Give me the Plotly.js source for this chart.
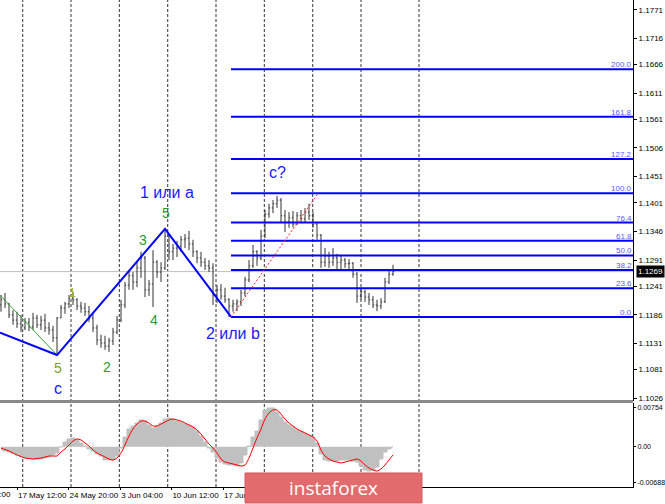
<!DOCTYPE html>
<html><head><meta charset="utf-8">
<script src="https://cdn.plot.ly/plotly-3.0.1.min.js"></script>
<style>html,body{margin:0;padding:0;background:#fff;}#chart{width:665px;height:504px;}</style>
</head><body><div id="chart"></div>
<script>
// ---- price bars (H4, bar index 0..98) ----
const barOpen = [1.1205,1.1215,1.1207,1.1186,1.1176,1.1169,1.1161,1.1172,1.1163,1.1180,
1.1167,1.1176,1.1161,1.1157,1.1142,1.1180,1.1199,1.1207,1.1218,1.1215,
1.1203,1.1199,1.1192,1.1180,1.1161,1.1138,1.1132,1.1126,1.1136,1.1153,
1.1176,1.1205,1.1243,1.1261,1.1249,1.1276,1.1295,1.1234,1.1245,1.1287,
1.1268,1.1276,1.1337,1.1307,1.1314,1.1318,1.1330,1.1333,1.1322,1.1307,
1.1295,1.1287,1.1280,1.1276,1.1224,1.1234,1.1222,1.1215,1.1203,1.1207,
1.1211,1.1228,1.1253,1.1280,1.1307,1.1295,1.1337,1.1379,1.1391,1.1399,
1.1406,1.1376,1.1364,1.1372,1.1360,1.1376,1.1370,1.1383,1.1376,1.1360,
1.1339,1.1287,1.1299,1.1287,1.1295,1.1287,1.1291,1.1284,1.1285,1.1264,
1.1222,1.1230,1.1220,1.1215,1.1205,1.1203,1.1211,1.1249,1.1264];
const barHigh = [1.1224,1.1228,1.1209,1.1195,1.1192,1.1186,1.1180,1.1180,1.1190,1.1186,
1.1184,1.1188,1.1172,1.1165,1.1182,1.1205,1.1211,1.1224,1.1230,1.1218,
1.1211,1.1209,1.1203,1.1188,1.1167,1.1148,1.1146,1.1142,1.1161,1.1184,
1.1215,1.1249,1.1272,1.1268,1.1287,1.1307,1.1299,1.1253,1.1310,1.1291,
1.1287,1.1351,1.1341,1.1322,1.1328,1.1337,1.1341,1.1347,1.1330,1.1310,
1.1307,1.1295,1.1291,1.1285,1.1243,1.1245,1.1238,1.1218,1.1215,1.1216,
1.1234,1.1259,1.1291,1.1320,1.1310,1.1349,1.1387,1.1399,1.1406,1.1414,
1.1410,1.1387,1.1383,1.1385,1.1383,1.1387,1.1391,1.1399,1.1383,1.1362,
1.1341,1.1314,1.1307,1.1314,1.1303,1.1299,1.1295,1.1293,1.1287,1.1268,
1.1238,1.1234,1.1228,1.1222,1.1215,1.1218,1.1257,1.1272,1.1282];
const barLow = [1.1192,1.1199,1.1180,1.1167,1.1161,1.1153,1.1157,1.1155,1.1157,1.1161,
1.1157,1.1153,1.1148,1.1134,1.1109,1.1180,1.1188,1.1199,1.1205,1.1195,
1.1190,1.1184,1.1172,1.1153,1.1128,1.1123,1.1119,1.1115,1.1128,1.1149,
1.1172,1.1199,1.1234,1.1234,1.1239,1.1257,1.1220,1.1222,1.1201,1.1257,
1.1249,1.1272,1.1291,1.1291,1.1297,1.1307,1.1314,1.1310,1.1297,1.1285,
1.1278,1.1272,1.1268,1.1205,1.1209,1.1215,1.1209,1.1182,1.1192,1.1193,
1.1203,1.1222,1.1249,1.1276,1.1280,1.1291,1.1333,1.1372,1.1381,1.1391,
1.1364,1.1345,1.1353,1.1354,1.1358,1.1362,1.1364,1.1368,1.1353,1.1330,
1.1276,1.1278,1.1276,1.1280,1.1272,1.1274,1.1276,1.1272,1.1257,1.1209,
1.1215,1.1211,1.1205,1.1199,1.1193,1.1197,1.1209,1.1245,1.1261];
const barClose = [1.1215,1.1207,1.1186,1.1176,1.1169,1.1161,1.1172,1.1163,1.1180,1.1167,
1.1176,1.1161,1.1157,1.1142,1.1180,1.1199,1.1207,1.1218,1.1215,1.1203,
1.1199,1.1192,1.1180,1.1161,1.1138,1.1132,1.1126,1.1136,1.1153,1.1176,
1.1205,1.1243,1.1261,1.1249,1.1276,1.1295,1.1234,1.1245,1.1287,1.1268,
1.1276,1.1337,1.1307,1.1314,1.1318,1.1330,1.1333,1.1322,1.1307,1.1295,
1.1287,1.1280,1.1276,1.1224,1.1234,1.1222,1.1215,1.1203,1.1207,1.1211,
1.1228,1.1253,1.1280,1.1307,1.1295,1.1337,1.1379,1.1391,1.1399,1.1406,
1.1376,1.1364,1.1372,1.1360,1.1376,1.1370,1.1383,1.1376,1.1360,1.1339,
1.1287,1.1299,1.1287,1.1295,1.1287,1.1291,1.1284,1.1285,1.1264,1.1222,
1.1230,1.1220,1.1215,1.1205,1.1203,1.1211,1.1249,1.1264,1.1269];

// ---- oscillator (MACD-like) ----
const histVals = [-0.00063,-0.00083,-0.00102,-0.00131,-0.00159,-0.00188,-0.00217,-0.00227,-0.00236,-0.00236,
-0.00236,-0.00217,-0.00198,-0.00159,-0.00121,-0.00006,0.00090,0.00148,0.00167,0.00129,
0.00071,0.00013,-0.00044,-0.00083,-0.00140,-0.00179,-0.00255,-0.00255,-0.00255,-0.00179,
-0.00025,0.00186,0.00340,0.00397,0.00455,0.00513,0.00493,0.00417,0.00359,0.00397,
0.00455,0.00532,0.00551,0.00532,0.00493,0.00474,0.00436,0.00417,0.00378,0.00301,
0.00205,0.00090,-0.00025,-0.00102,-0.00217,-0.00294,-0.00332,-0.00351,-0.00351,-0.00371,
-0.00313,-0.00159,0.00013,0.00186,0.00301,0.00513,0.00705,0.00743,0.00743,0.00666,
0.00570,0.00474,0.00417,0.00378,0.00321,0.00301,0.00263,0.00225,0.00186,0.00071,
-0.00140,-0.00255,-0.00275,-0.00275,-0.00275,-0.00255,-0.00255,-0.00255,-0.00275,-0.00294,
-0.00371,-0.00447,-0.00467,-0.00447,-0.00390,-0.00236,-0.00102,-0.00044,-0.00006];
const signalVals = [-0.00025,-0.00054,-0.00083,-0.00121,-0.00159,-0.00188,-0.00217,-0.00227,-0.00236,-0.00227,
-0.00217,-0.00198,-0.00179,-0.00179,-0.00179,-0.00102,-0.00044,0.00033,0.00109,0.00148,
0.00129,0.00071,0.00013,-0.00063,-0.00121,-0.00159,-0.00198,-0.00236,-0.00255,-0.00217,
-0.00121,0.00033,0.00205,0.00340,0.00436,0.00493,0.00493,0.00455,0.00397,0.00397,
0.00436,0.00474,0.00513,0.00532,0.00513,0.00493,0.00455,0.00417,0.00378,0.00321,
0.00244,0.00148,0.00052,-0.00025,-0.00121,-0.00236,-0.00294,-0.00313,-0.00332,-0.00351,
-0.00371,-0.00351,-0.00217,-0.00025,0.00167,0.00340,0.00532,0.00647,0.00705,0.00705,
0.00628,0.00532,0.00455,0.00397,0.00340,0.00301,0.00263,0.00225,0.00186,0.00109,
-0.00063,-0.00179,-0.00236,-0.00275,-0.00294,-0.00313,-0.00294,-0.00275,-0.00255,-0.00236,
-0.00275,-0.00351,-0.00409,-0.00447,-0.00467,-0.00428,-0.00351,-0.00255,-0.00159];

// ---- wave markup ----
const waveX = [-0.25, 14, 41, 57.5];
const waveY = [1.1152, 1.1109, 1.1351, 1.1182];
const greenX = [-0.25, 14];
const greenY = [1.1224, 1.1109];
const fibTrendX = [57.5, 79.3];
const fibTrendY = [1.1182, 1.1419];

// ---- Fibonacci levels ----
const fibLabels = ['0.0','23.6','38.2','50.0','61.8','76.4','100.0','127.2','161.8','200.0'];
const fibPrices = [1.1182,1.1237,1.1272,1.1300,1.1328,1.1363,1.1419,1.1485,1.1566,1.1657];
const fibStart = 57.5;

// ---- labels ----
const waveLabelText = ['1 или a','5','3','4','2','5','1','c','2 или b','c?'];
const waveLabelX = [41.4,41.2,35.6,38.3,26.4,14.3,17.9,14.3,58,69.2];
const waveLabelY = [1.1420,1.1381,1.1330,1.1176,1.1087,1.1084,1.1227,1.1045,1.1151,1.1459];
const waveLabelColor = ['#1a1aff','#2e9a2e','#2e9a2e','#2e9a2e','#2e9a2e','#7f9e1e','#a8b020','#1a1aff','#1a1aff','#1a1aff'];
const waveLabelSize = [16,14,14,14,14,14,12,16,16,16];

// ---- axes ----
const priceTickLabels = ['1.1771','1.1716','1.1666','1.1611','1.1561','1.1506','1.1451','1.1401','1.1346','1.1291','1.1241','1.1186','1.1131','1.1081','1.1026'];
const oscTickLabels = ['0.00754','0.00','-0.00688'];
const timeLabels = ['10 May 04:00','17 May 12:00','24 May 20:00','3 Jun 04:00','10 Jun 12:00','17 Jun 20:00'];
const timeLabelIdx = [-8.8,4.0,16.9,29.8,42.6,55.5];
const gridIdx = [5.43,17.5,29.58,41.68,53.75,65.83,77.93,90.0,104.5];

const barIndex = barOpen.map((_, i) => i);
const lastClose = barClose[barClose.length - 1];
const xRange = [-0.25, 158];
const plotW = 633;

const fibX = [], fibY = [];
fibPrices.forEach(p => { fibX.push(fibStart, xRange[1], null); fibY.push(p, p, null); });

const traces = [
  {type:'ohlc', x:barIndex, open:barOpen, high:barHigh, low:barLow, close:barClose,
   xaxis:'x', yaxis:'y', tickwidth:0.3,
   increasing:{line:{color:'#333333', width:1}}, decreasing:{line:{color:'#333333', width:1}},
   hoverinfo:'skip'},
  {type:'scatter', mode:'lines', x:fibX, y:fibY, xaxis:'x', yaxis:'y',
   line:{color:'#0000ff', width:2}, hoverinfo:'skip'},
  {type:'scatter', mode:'lines', x:greenX, y:greenY, xaxis:'x', yaxis:'y',
   line:{color:'#3c9c3c', width:1}, hoverinfo:'skip'},
  {type:'scatter', mode:'lines', x:waveX, y:waveY, xaxis:'x', yaxis:'y',
   line:{color:'#0000ff', width:2}, hoverinfo:'skip'},
  {type:'scatter', mode:'lines', x:fibTrendX, y:fibTrendY, xaxis:'x', yaxis:'y',
   line:{color:'#ff2020', width:1, dash:'2px,2px'}, hoverinfo:'skip'},
  {type:'scatter', mode:'lines', x:barIndex, y:histVals, xaxis:'x2', yaxis:'y2', fill:'tozeroy',
   fillcolor:'#c0c0c0', line:{color:'#c0c0c0', width:1, shape:'hvh'}, hoverinfo:'skip'},
  {type:'scatter', mode:'lines', x:barIndex, y:signalVals, xaxis:'x2', yaxis:'y2',
   line:{color:'#ff0000', width:1, shape:'spline', smoothing:0.8}, hoverinfo:'skip'}
];

const shapes = [];
gridIdx.forEach(g => shapes.push({type:'line', xref:'x', yref:'paper', x0:g, x1:g, y0:0, y1:1,
  line:{color:'#333333', width:1, dash:'3px,2px'}, layer:'below'}));
shapes.push({type:'line', xref:'paper', yref:'y', x0:0, x1:1, y0:lastClose, y1:lastClose,
  line:{color:'#c0c0c0', width:1}, layer:'below'});
shapes.push({type:'line', xref:'paper', yref:'paper', x0:0, x1:1, y0:0.1755, y1:0.1755,
  line:{color:'#8a8a8a', width:3}, layer:'above'});
shapes.push({type:'rect', xref:'paper', yref:'paper', x0:245/plotW, x1:422/plotW, y0:-0.0329, y1:0.0288,
  fillcolor:'#e26b6e', line:{color:'#d25c60', width:1}, layer:'above'});

const annotations = [];
waveLabelText.forEach((t, i) => annotations.push({text:t, x:waveLabelX[i], y:waveLabelY[i], xref:'x', yref:'y',
  showarrow:false, font:{family:'Liberation Sans, Arial, sans-serif', size:waveLabelSize[i], color:waveLabelColor[i]}}));
fibLabels.forEach((t, i) => annotations.push({text:t, x:1, y:fibPrices[i], xref:'paper', yref:'y',
  xanchor:'right', yanchor:'bottom', yshift:-1, showarrow:false, borderpad:0,
  font:{family:'Liberation Sans, Arial, sans-serif', size:8, color:'#5a5aff'}}));
annotations.push({text:lastClose.toFixed(4), x:1, y:lastClose, xref:'paper', yref:'y', xanchor:'left', xshift:3,
  showarrow:false, bgcolor:'#000', borderpad:1, font:{family:'Liberation Sans, Arial, sans-serif', size:8, color:'#fff'}});
annotations.push({text:timeLabels[0], x:12.7/plotW, y:-0.0145, xref:'paper', yref:'paper', xanchor:'right', yanchor:'middle',
  showarrow:false, font:{family:'Liberation Sans, Arial, sans-serif', size:8, color:'#000'}});
annotations.push({text:'instaforex', x:333.5/plotW, y:-0.002, xref:'paper', yref:'paper', xanchor:'center', yanchor:'middle',
  showarrow:false, font:{family:'Open Sans, sans-serif', size:19, color:'#ffffff'}});

const layout = {
  width:665, height:504, margin:{l:0, r:32, t:0, b:17},
  paper_bgcolor:'#fff', plot_bgcolor:'rgba(0,0,0,0)', showlegend:false,
  font:{family:'Liberation Sans, Arial, sans-serif', size:8, color:'#000'},
  xaxis:{domain:[0,1], anchor:'y', range:xRange, showticklabels:false, showgrid:false, zeroline:false,
    showline:false, ticks:'', rangeslider:{visible:false}, fixedrange:true},
  yaxis:{domain:[0.17659,1], anchor:'x', side:'right', range:[1.10209,1.17896],
    tickvals:priceTickLabels.map(Number), ticktext:priceTickLabels, showgrid:false, zeroline:false,
    showline:true, linecolor:'#000', linewidth:1, ticks:'outside', ticklen:3, tickcolor:'#000',
    tickfont:{size:8}, fixedrange:true},
  xaxis2:{domain:[0,1], anchor:'y2', range:xRange, tickvals:timeLabelIdx.slice(1), ticktext:timeLabels.slice(1),
    ticklabelposition:'outside right', tickangle:0, ticks:'outside', ticklen:2, tickcolor:'#000', showgrid:false, zeroline:false,
    showline:true, linecolor:'#000', linewidth:1, tickfont:{size:8}, fixedrange:true},
  yaxis2:{domain:[0,0.17248], anchor:'x2', side:'right', range:[-0.00774,0.00839],
    tickvals:oscTickLabels.map(Number), ticktext:oscTickLabels, showgrid:false, zeroline:false,
    showline:true, linecolor:'#000', linewidth:1, ticks:'outside', ticklen:2, tickcolor:'#000',
    tickfont:{size:7}, fixedrange:true},
  shapes:shapes, annotations:annotations
};

Plotly.newPlot('chart', traces, layout, {staticPlot:true, displayModeBar:false});
</script></body></html>
